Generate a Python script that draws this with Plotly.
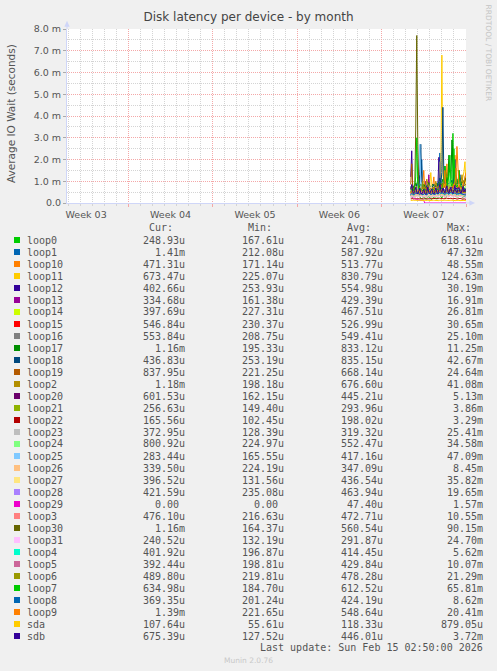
import pandas
import plotly.graph_objects

WIDTH, HEIGHT = 497, 671

# 2-hourly averages, only the last few days of the month hold data
TIMES = pandas.date_range("2026-02-11 10:00", periods=56, freq="2h")
X_RANGE = ["2026-01-13 22:00", "2026-02-16 00:00"]

DEVICES = [
    "loop0", "loop1", "loop10", "loop11", "loop12", "loop13", "loop14",
    "loop15", "loop16", "loop17", "loop18", "loop19", "loop2", "loop20",
    "loop21", "loop22", "loop23", "loop24", "loop25", "loop26", "loop27",
    "loop28", "loop29", "loop3", "loop30", "loop31", "loop4", "loop5",
    "loop6", "loop7", "loop8", "loop9", "sda", "sdb",
]

# munin default palette, wraps after 29 entries
COLORS = [
    "#00CC00", "#0066B3", "#FF8000", "#FFCC00", "#330099", "#990099", "#CCFF00",
    "#FF0000", "#808080", "#008F00", "#00487D", "#B35A00", "#B38F00", "#6B006B",
    "#8FB300", "#B30000", "#BEBEBE", "#80FF80", "#80C9FF", "#FFC080", "#FFE680",
    "#AA80FF", "#EE00CC", "#FF8080", "#666600", "#FFBFFF", "#00FFCC", "#CC6699",
    "#999900", "#00CC00", "#0066B3", "#FF8000", "#FFCC00", "#330099",
]

# IO wait per device, milliseconds
LOOP0 = [0.35, 0.28, 0.22, 0.25, 0.31, 0.42, 0.66, 1.20,
         0.38, 0.24, 0.21, 0.19, 0.23, 0.27, 0.22, 0.18,
         0.20, 0.26, 0.31, 0.24, 0.19, 0.17, 0.22, 0.29,
         0.25, 0.21, 0.18, 0.24, 0.33, 0.41, 0.28, 0.23,
         0.36, 0.52, 0.31, 0.27, 0.44, 0.62, 1.90, 0.71,
         0.48, 0.95, 3.20, 0.84, 0.37, 0.29, 0.33, 0.26,
         0.41, 0.58, 0.34, 0.27, 0.22, 0.31, 0.28, 0.25]
LOOP1 = [0.52, 0.61, 0.48, 0.55, 0.72, 0.64, 0.58, 0.81,
         0.66, 1.10, 1.45, 2.00, 0.74, 0.49, 0.43, 0.51,
         0.47, 0.56, 0.62, 0.44, 0.41, 0.53, 0.59, 0.48,
         0.45, 0.52, 0.61, 0.79, 1.20, 2.30, 0.92, 0.66,
         0.85, 0.71, 0.94, 1.40, 0.63, 0.57, 0.69, 0.82,
         0.61, 0.55, 0.74, 0.66, 0.59, 0.52, 0.71, 0.64,
         0.58, 0.93, 0.67, 0.54, 0.62, 0.88, 1.05, 1.41]
LOOP10 = [0.45, 0.52, 0.61, 0.48, 0.39, 0.55, 0.47, 0.63,
          0.51, 0.44, 0.58, 0.72, 0.96, 1.50, 0.62, 0.41,
          0.38, 0.46, 0.52, 0.43, 0.49, 0.57, 0.81, 1.20,
          0.54, 0.42, 0.47, 0.39, 0.51, 0.64, 0.58, 0.73,
          0.66, 1.05, 0.82, 0.69, 1.80, 0.74, 0.61, 0.57,
          0.88, 0.65, 0.79, 1.15, 2.20, 0.93, 0.71, 0.62,
          0.55, 0.68, 0.74, 0.59, 0.52, 0.61, 0.48, 0.47]
LOOP11 = [0.62, 0.71, 0.58, 0.66, 0.74, 0.92, 0.81, 0.69,
          0.77, 0.63, 0.59, 0.72, 0.68, 0.85, 0.61, 0.57,
          0.64, 0.79, 0.88, 0.96, 1.40, 0.73, 0.66, 0.61,
          0.58, 0.69, 0.75, 0.82, 0.94, 1.10, 1.60, 6.80,
          1.30, 0.88, 0.79, 0.92, 1.25, 0.84, 0.73, 0.81,
          0.96, 0.78, 0.85, 0.71, 0.69, 0.93, 0.77, 0.82,
          0.74, 0.88, 0.79, 0.95, 1.20, 1.45, 1.90, 0.67]
LOOP12 = [1.20, 2.40, 0.62, 0.48, 0.55, 0.51, 0.46, 0.58,
          0.52, 0.47, 0.61, 0.54, 0.49, 0.57, 0.63, 0.51,
          0.46, 0.58, 0.66, 0.52, 0.48, 0.55, 0.61, 0.57,
          0.53, 0.49, 0.56, 0.72, 2.10, 0.84, 0.63, 0.58,
          0.71, 0.62, 0.55, 0.68, 0.59, 0.53, 0.64, 0.57,
          0.61, 0.74, 0.66, 0.58, 0.52, 0.63, 0.69, 0.55,
          0.51, 0.59, 0.65, 0.54, 0.48, 0.57, 0.44, 0.40]
LOOP13 = [0.38, 0.42, 0.35, 0.41, 0.46, 0.39, 0.44, 0.51,
          0.43, 0.37, 0.40, 0.45, 0.48, 0.42, 0.56, 1.00,
          0.47, 0.52, 1.30, 0.49, 0.41, 0.38, 0.44, 0.46,
          0.39, 0.43, 0.47, 0.41, 0.52, 0.48, 0.44, 0.55,
          0.61, 0.49, 0.45, 0.42, 0.51, 0.46, 0.43, 0.48,
          0.53, 0.47, 0.44, 0.50, 0.46, 0.41, 0.48, 0.52,
          0.45, 0.42, 0.47, 0.43, 0.39, 0.41, 0.37, 0.33]
LOOP14 = [0.41, 0.46, 0.39, 0.44, 0.52, 0.48, 0.43, 0.47,
          0.51, 0.45, 0.42, 0.49, 0.55, 0.47, 0.43, 0.40,
          0.46, 0.53, 0.49, 0.44, 0.41, 0.47, 0.52, 0.48,
          0.43, 0.46, 0.50, 0.45, 0.58, 0.64, 0.52, 0.61,
          0.55, 0.49, 0.46, 0.53, 0.74, 0.57, 0.51, 0.48,
          0.55, 0.62, 0.58, 0.51, 0.47, 0.53, 0.49, 0.46,
          0.52, 0.48, 0.44, 0.49, 0.46, 0.43, 0.41, 0.40]
LOOP15 = [0.48, 0.53, 0.51, 0.49, 0.55, 0.52, 0.57, 0.54,
          0.50, 0.52, 0.56, 0.53, 0.49, 0.51, 0.55, 0.52,
          0.48, 0.50, 0.54, 0.51, 0.49, 0.53, 0.56, 0.52,
          0.50, 0.48, 0.51, 0.55, 0.59, 0.62, 0.57, 0.64,
          0.58, 0.55, 0.53, 0.56, 0.61, 0.57, 0.54, 0.52,
          0.58, 0.63, 0.59, 0.55, 0.53, 0.57, 0.54, 0.51,
          0.55, 0.53, 0.50, 0.54, 0.52, 0.56, 0.53, 0.55]
LOOP16 = [0.51, 0.56, 0.49, 0.53, 0.61, 0.58, 0.52, 0.66,
          0.57, 0.53, 0.62, 0.59, 0.54, 0.51, 0.48, 0.55,
          0.52, 0.57, 0.63, 0.56, 0.50, 0.54, 0.58, 0.53,
          0.49, 0.55, 0.60, 0.68, 0.95, 1.90, 0.72, 0.61,
          0.66, 0.59, 0.55, 0.62, 0.57, 0.53, 0.60, 0.56,
          0.63, 0.58, 0.54, 0.61, 0.57, 0.52, 0.59, 0.55,
          0.51, 0.58, 0.62, 0.56, 0.53, 0.57, 0.55, 0.55]
LOOP17 = [0.72, 0.81, 0.76, 0.69, 0.85, 0.92, 0.78, 1.05,
          0.83, 0.74, 0.88, 0.79, 0.71, 0.86, 0.77, 0.70,
          0.75, 0.82, 0.94, 0.79, 0.73, 0.80, 0.87, 0.76,
          0.72, 0.84, 0.91, 0.78, 0.86, 0.95, 0.82, 0.89,
          1.10, 0.93, 1.70, 1.05, 0.88, 1.20, 2.20, 0.97,
          1.15, 2.90, 1.35, 0.92, 0.86, 0.98, 1.10, 0.89,
          1.50, 0.94, 0.87, 0.99, 0.91, 1.05, 1.12, 1.16]
LOOP18 = [0.68, 0.74, 0.81, 0.72, 0.79, 0.86, 0.77, 0.92,
          0.84, 1.30, 2.70, 0.95, 0.78, 0.71, 0.76, 0.82,
          0.74, 0.69, 0.77, 0.83, 0.75, 0.70, 0.79, 0.86,
          0.81, 0.73, 0.78, 0.85, 0.97, 1.15, 0.93, 1.40,
          4.40, 1.10, 0.89, 0.96, 0.84, 0.91, 0.87, 0.99,
          0.93, 1.05, 0.88, 1.20, 2.00, 0.95, 0.86, 0.92,
          1.05, 1.30, 0.89, 0.82, 0.77, 0.71, 0.58, 0.44]
LOOP19 = [0.85, 1.80, 0.72, 0.64, 0.59, 0.68, 0.75, 0.66,
          0.61, 0.57, 0.69, 0.74, 0.63, 0.58, 0.65, 0.71,
          0.62, 0.56, 0.64, 0.70, 0.66, 0.60, 0.67, 0.73,
          0.65, 0.59, 0.63, 0.69, 0.78, 0.84, 0.75, 0.81,
          0.92, 0.76, 0.71, 0.68, 0.79, 0.73, 0.67, 0.74,
          0.82, 0.77, 0.70, 0.76, 0.85, 0.78, 0.72, 0.69,
          0.75, 0.81, 0.74, 0.68, 0.73, 0.79, 0.84, 0.84]
LOOP2 = [0.64, 0.71, 0.66, 0.59, 0.73, 0.68, 0.62, 0.75,
         0.69, 0.63, 0.70, 0.77, 0.66, 0.61, 0.72, 0.84,
         1.10, 0.74, 0.65, 0.60, 0.67, 0.71, 0.63, 0.69,
         0.76, 1.00, 0.72, 0.66, 0.74, 0.81, 0.70, 0.78,
         0.86, 0.73, 0.79, 0.92, 0.75, 0.71, 0.83, 0.77,
         0.72, 0.80, 0.88, 0.74, 0.96, 1.60, 0.82, 0.76,
         0.71, 0.79, 0.95, 1.30, 0.84, 0.92, 1.05, 1.18]
LOOP20 = [0.41, 0.47, 0.43, 0.39, 0.45, 0.52, 0.44, 0.48,
          0.42, 0.46, 0.50, 0.44, 0.40, 0.47, 0.43, 0.41,
          0.45, 0.49, 0.62, 0.47, 0.42, 0.44, 0.48, 0.43,
          0.40, 0.45, 0.51, 0.46, 0.53, 0.58, 0.49, 0.55,
          0.50, 0.46, 0.43, 0.49, 0.54, 0.47, 0.44, 0.51,
          0.56, 0.48, 0.45, 0.50, 0.53, 0.47, 0.44, 0.49,
          0.46, 0.52, 0.48, 0.45, 0.50, 0.55, 0.58, 0.60]
LOOP21 = [0.27, 0.31, 0.28, 0.25, 0.30, 0.33, 0.29, 0.35,
          0.30, 0.27, 0.32, 0.29, 0.26, 0.28, 0.31, 0.27,
          0.25, 0.29, 0.34, 0.30, 0.26, 0.28, 0.32, 0.29,
          0.27, 0.30, 0.33, 0.28, 0.31, 0.36, 0.30, 0.34,
          0.32, 0.29, 0.27, 0.31, 0.35, 0.30, 0.28, 0.33,
          0.37, 0.31, 0.29, 0.32, 0.34, 0.30, 0.27, 0.31,
          0.29, 0.33, 0.30, 0.28, 0.26, 0.29, 0.27, 0.26]
LOOP22 = [0.19, 0.21, 0.20, 0.18, 0.20, 0.22, 0.19, 0.21,
          0.20, 0.19, 0.21, 0.20, 0.18, 0.19, 0.21, 0.20,
          0.18, 0.19, 0.22, 0.20, 0.19, 0.18, 0.20, 0.21,
          0.19, 0.20, 0.22, 0.19, 0.21, 0.23, 0.20, 0.22,
          0.21, 0.19, 0.20, 0.21, 0.23, 0.20, 0.19, 0.21,
          0.22, 0.20, 0.19, 0.21, 0.22, 0.20, 0.18, 0.20,
          0.19, 0.21, 0.20, 0.18, 0.17, 0.19, 0.18, 0.17]
LOOP23 = [0.30, 0.34, 0.31, 0.28, 0.33, 0.36, 0.32, 0.38,
          0.33, 0.30, 0.35, 0.32, 0.29, 0.31, 0.34, 0.30,
          0.28, 0.32, 0.37, 0.33, 0.29, 0.31, 0.35, 0.32,
          0.30, 0.33, 0.36, 0.31, 0.34, 0.39, 0.33, 0.37,
          0.35, 0.32, 0.30, 0.34, 0.38, 0.33, 0.31, 0.36,
          0.40, 0.34, 0.32, 0.35, 0.37, 0.33, 0.30, 0.34,
          0.32, 0.36, 0.33, 0.31, 0.35, 0.38, 0.36, 0.37]
LOOP24 = [0.52, 0.58, 0.54, 0.49, 0.56, 0.61, 0.53, 0.59,
          0.55, 0.51, 0.57, 0.60, 0.53, 0.50, 0.55, 0.52,
          0.48, 0.54, 0.59, 0.56, 0.51, 0.53, 0.57, 0.54,
          0.50, 0.55, 0.60, 0.54, 0.58, 0.66, 0.57, 0.63,
          0.61, 0.56, 0.53, 0.59, 0.68, 0.62, 0.74, 1.40,
          0.71, 0.63, 0.58, 0.65, 0.69, 0.61, 0.57, 0.64,
          0.60, 0.67, 0.62, 0.58, 0.64, 0.71, 0.76, 0.80]
LOOP25 = [0.39, 0.44, 0.41, 0.37, 0.43, 0.48, 0.42, 0.62,
          1.40, 2.70, 0.95, 0.46, 0.40, 0.38, 0.42, 0.39,
          0.36, 0.41, 0.45, 0.40, 0.37, 0.39, 0.43, 0.40,
          0.38, 0.41, 0.44, 0.39, 0.42, 0.47, 0.41, 0.46,
          0.44, 0.40, 0.38, 0.42, 0.46, 0.41, 0.39, 0.43,
          0.47, 0.42, 0.40, 0.44, 0.45, 0.41, 0.38, 0.42,
          0.40, 0.44, 0.41, 0.37, 0.34, 0.31, 0.29, 0.28]
LOOP26 = [0.33, 0.37, 0.34, 0.31, 0.36, 0.40, 0.35, 0.41,
          0.36, 0.33, 0.38, 0.35, 0.32, 0.34, 0.37, 0.33,
          0.31, 0.35, 0.40, 0.36, 0.32, 0.34, 0.38, 0.35,
          0.33, 0.36, 0.39, 0.34, 0.37, 0.42, 0.36, 0.40,
          0.38, 0.35, 0.33, 0.37, 0.41, 0.36, 0.34, 0.39,
          0.43, 0.37, 0.35, 0.38, 0.40, 0.36, 0.33, 0.37,
          0.35, 0.39, 0.36, 0.34, 0.37, 0.35, 0.33, 0.34]
LOOP27 = [0.41, 0.46, 0.43, 0.39, 0.45, 0.49, 0.44, 0.50,
          0.45, 0.42, 0.47, 0.44, 0.40, 0.43, 0.46, 0.42,
          0.40, 0.45, 0.58, 0.72, 1.00, 0.48, 0.46, 0.43,
          0.41, 0.44, 0.47, 0.42, 0.45, 0.51, 0.44, 0.49,
          0.47, 0.43, 0.41, 0.45, 0.49, 0.44, 0.42, 0.46,
          0.50, 0.45, 0.43, 0.47, 0.48, 0.44, 0.41, 0.45,
          0.43, 0.47, 0.44, 0.41, 0.43, 0.40, 0.39, 0.40]
LOOP28 = [0.43, 0.48, 0.45, 0.41, 0.47, 0.51, 0.46, 0.52,
          0.47, 0.44, 0.49, 0.46, 0.42, 0.45, 0.48, 0.44,
          0.42, 0.46, 0.51, 0.47, 0.43, 0.45, 0.49, 0.46,
          0.44, 0.47, 0.50, 0.45, 0.48, 0.54, 0.47, 0.52,
          0.50, 0.46, 0.44, 0.48, 0.52, 0.47, 0.45, 0.49,
          0.53, 0.48, 0.46, 0.50, 0.51, 0.47, 0.44, 0.48,
          0.46, 0.50, 0.47, 0.44, 0.46, 0.43, 0.42, 0.42]
LOOP29 = [0.32, 0.28, 0.25, 0.21, 0.18, 0.16, 0.15, 0.14,
          0.15, 0.13, 0.14, 0.12, 0.13, 0.11, 0.00, 0.00,
          0.00, 0.00, 0.00, 0.00, 0.00, 0.00, 0.00, 0.00,
          0.00, 0.00, 0.00, 0.00, 0.00, 0.00, 0.00, 0.00,
          0.00, 0.00, 0.00, 0.00, 0.00, 0.00, 0.00, 0.00,
          0.00, 0.00, 0.00, 0.00, 0.00, 0.00, 0.00, 0.00,
          0.00, 0.00, 0.00, 0.00, 0.00, 0.00, 0.00, 0.00]
LOOP3 = [0.44, 0.49, 0.46, 0.42, 0.48, 0.52, 0.47, 0.53,
         0.48, 0.45, 0.50, 0.47, 0.43, 0.46, 0.49, 0.45,
         0.43, 0.47, 0.52, 0.48, 0.44, 0.46, 0.50, 0.47,
         0.45, 0.48, 0.51, 0.46, 0.49, 0.55, 0.48, 0.53,
         0.51, 0.47, 0.45, 0.49, 0.53, 0.48, 0.46, 0.50,
         0.54, 0.49, 0.47, 0.51, 0.52, 0.48, 0.45, 0.49,
         0.47, 0.51, 0.48, 0.45, 0.49, 0.46, 0.47, 0.48]
LOOP30 = [0.52, 0.58, 0.61, 0.54, 0.73, 3.40, 7.70, 2.90,
          0.81, 0.62, 0.55, 0.59, 0.53, 0.50, 0.56, 0.52,
          0.49, 0.54, 0.58, 0.55, 0.51, 0.53, 0.57, 0.54,
          0.50, 0.55, 0.59, 0.54, 0.57, 0.63, 0.56, 0.61,
          0.59, 0.55, 0.52, 0.57, 0.62, 0.56, 0.54, 0.58,
          0.63, 0.57, 0.55, 0.59, 0.61, 0.56, 0.53, 0.57,
          0.55, 0.60, 0.57, 0.54, 0.72, 0.88, 1.05, 1.16]
LOOP31 = [0.27, 0.31, 0.28, 0.25, 0.30, 0.33, 0.29, 0.34,
          0.30, 0.27, 0.32, 0.29, 0.26, 0.28, 0.31, 0.27,
          0.25, 0.29, 0.33, 0.30, 0.26, 0.28, 0.32, 0.29,
          0.27, 0.30, 0.33, 0.28, 0.31, 0.35, 0.30, 0.34,
          0.32, 0.29, 0.27, 0.31, 0.34, 0.30, 0.28, 0.32,
          0.35, 0.31, 0.29, 0.32, 0.33, 0.30, 0.27, 0.31,
          0.29, 0.32, 0.30, 0.27, 0.26, 0.25, 0.24, 0.24]
LOOP4 = [0.38, 0.43, 0.40, 0.36, 0.42, 0.46, 0.41, 0.47,
         0.42, 0.39, 0.44, 0.41, 0.37, 0.40, 0.43, 0.39,
         0.37, 0.41, 0.46, 0.42, 0.38, 0.40, 0.44, 0.41,
         0.39, 0.42, 0.45, 0.40, 0.43, 0.48, 0.42, 0.46,
         0.45, 0.41, 0.39, 0.43, 0.47, 0.42, 0.40, 0.44,
         0.48, 0.43, 0.41, 0.44, 0.46, 0.42, 0.39, 0.43,
         0.41, 0.45, 0.42, 0.39, 0.41, 0.38, 0.40, 0.40]
LOOP5 = [0.40, 0.45, 0.42, 0.38, 0.44, 0.48, 0.43, 0.49,
         0.44, 0.41, 0.46, 0.43, 0.39, 0.42, 0.45, 0.41,
         0.39, 0.43, 0.48, 0.44, 0.40, 0.42, 0.46, 0.43,
         0.41, 0.44, 0.47, 0.42, 0.45, 0.50, 0.44, 0.48,
         0.47, 0.43, 0.41, 0.45, 0.49, 0.44, 0.42, 0.46,
         0.50, 0.45, 0.43, 0.46, 0.48, 0.44, 0.41, 0.45,
         0.43, 0.47, 0.44, 0.41, 0.40, 0.42, 0.39, 0.39]
LOOP6 = [0.45, 0.50, 0.47, 0.43, 0.49, 0.53, 0.48, 0.54,
         0.49, 0.46, 0.51, 0.62, 1.00, 0.55, 0.50, 0.46,
         0.44, 0.48, 0.53, 0.49, 0.45, 0.47, 0.51, 0.48,
         0.46, 0.49, 0.52, 0.47, 0.50, 0.56, 0.49, 0.54,
         0.52, 0.48, 0.46, 0.50, 0.54, 0.49, 0.47, 0.51,
         0.55, 0.50, 0.48, 0.52, 0.53, 0.49, 0.46, 0.50,
         0.48, 0.52, 0.49, 0.46, 0.48, 0.47, 0.49, 0.49]
LOOP7 = [0.58, 0.64, 0.61, 0.57, 0.75, 1.20, 3.00, 0.95,
         0.66, 0.59, 0.63, 0.60, 0.56, 0.62, 0.65, 0.58,
         0.55, 0.61, 0.66, 0.62, 0.57, 0.60, 0.64, 0.61,
         0.58, 0.62, 0.66, 0.60, 0.64, 0.71, 0.63, 0.69,
         0.82, 1.05, 1.70, 0.88, 0.74, 0.96, 1.30, 2.20,
         0.91, 0.78, 1.10, 2.50, 0.95, 0.81, 0.73, 0.86,
         1.50, 0.92, 0.77, 0.69, 0.74, 0.66, 0.62, 0.63]
LOOP8 = [0.39, 0.44, 0.41, 0.37, 0.43, 0.47, 0.42, 0.48,
         0.43, 0.40, 0.45, 0.42, 0.38, 0.41, 0.44, 0.40,
         0.38, 0.42, 0.47, 0.43, 0.39, 0.41, 0.45, 0.42,
         0.40, 0.43, 0.46, 0.41, 0.44, 0.49, 0.43, 0.47,
         0.46, 0.42, 0.40, 0.44, 0.48, 0.43, 0.41, 0.45,
         0.49, 0.44, 0.42, 0.45, 0.47, 0.43, 0.40, 0.44,
         0.42, 0.46, 0.43, 0.40, 0.39, 0.38, 0.37, 0.37]
LOOP9 = [0.51, 0.57, 0.54, 0.50, 0.56, 0.60, 0.55, 0.61,
         0.56, 0.52, 0.58, 0.55, 0.51, 0.54, 0.57, 0.53,
         0.50, 0.55, 0.60, 0.56, 0.52, 0.54, 0.58, 0.55,
         0.52, 0.56, 0.59, 0.54, 0.57, 0.63, 0.56, 0.61,
         0.68, 0.85, 1.50, 0.72, 0.64, 0.59, 0.66, 0.71,
         0.63, 0.58, 0.69, 0.77, 0.92, 1.25, 2.60, 1.20,
         0.74, 0.66, 0.71, 0.63, 0.82, 1.05, 1.25, 1.39]
SDA = [0.12, 0.11, 0.12, 0.13, 0.11, 0.12, 0.12, 0.11,
       0.12, 0.13, 0.12, 0.11, 0.12, 0.12, 0.11, 0.12,
       0.13, 0.12, 0.11, 0.12, 0.12, 0.11, 0.12, 0.13,
       0.12, 0.11, 0.12, 0.12, 0.11, 0.13, 0.12, 0.11,
       0.12, 0.12, 0.13, 0.11, 0.12, 0.12, 0.11, 0.12,
       0.13, 0.12, 0.11, 0.12, 0.12, 0.11, 0.12, 0.13,
       0.12, 0.11, 0.12, 0.12, 0.11, 0.12, 0.11, 0.11]
SDB = [0.62, 0.85, 0.51, 0.44, 0.58, 0.72, 0.49, 0.41,
       0.55, 0.68, 0.47, 0.40, 0.52, 0.63, 0.45, 0.39,
       0.50, 0.74, 0.48, 0.42, 0.56, 0.66, 0.46, 0.40,
       0.53, 0.70, 0.49, 0.43, 0.61, 0.88, 0.57, 0.48,
       0.69, 0.54, 0.46, 0.63, 0.79, 0.52, 0.45, 0.60,
       0.73, 0.50, 0.44, 0.58, 0.81, 0.55, 0.47, 0.64,
       0.71, 0.51, 0.45, 0.59, 0.76, 0.53, 0.62, 0.68]

SERIES = [
    LOOP0, LOOP1, LOOP10, LOOP11, LOOP12, LOOP13, LOOP14, LOOP15, LOOP16,
    LOOP17, LOOP18, LOOP19, LOOP2, LOOP20, LOOP21, LOOP22, LOOP23, LOOP24,
    LOOP25, LOOP26, LOOP27, LOOP28, LOOP29, LOOP3, LOOP30, LOOP31, LOOP4,
    LOOP5, LOOP6, LOOP7, LOOP8, LOOP9, SDA, SDB,
]

# legend statistics, milliseconds
CUR_MS = [0.24893, 1.41, 0.47131, 0.67347, 0.40266, 0.33468, 0.39769,
          0.54684, 0.55384, 1.16, 0.43683, 0.83795, 1.18, 0.60153,
          0.25663, 0.16556, 0.37295, 0.80092, 0.28344, 0.33950, 0.39652,
          0.42159, 0.0, 0.47610, 1.16, 0.24052, 0.40192, 0.39244,
          0.48980, 0.63498, 0.36935, 1.39, 0.10764, 0.67539]
MIN_MS = [0.16761, 0.21208, 0.17114, 0.22507, 0.25393, 0.16138, 0.22731,
          0.23037, 0.20875, 0.19533, 0.25319, 0.22125, 0.19818, 0.16215,
          0.14940, 0.10245, 0.12839, 0.22497, 0.16555, 0.22419, 0.13156,
          0.23508, 0.0, 0.21663, 0.16437, 0.13219, 0.19687, 0.19881,
          0.21981, 0.18470, 0.20124, 0.22165, 0.05561, 0.12752]
AVG_MS = [0.24178, 0.58792, 0.51377, 0.83079, 0.55498, 0.42939, 0.46751,
          0.52699, 0.54941, 0.83312, 0.83515, 0.66814, 0.67660, 0.44521,
          0.29396, 0.19802, 0.31932, 0.55247, 0.41716, 0.34709, 0.43654,
          0.46394, 0.04740, 0.47271, 0.56054, 0.29187, 0.41445, 0.42984,
          0.47828, 0.61252, 0.42419, 0.54864, 0.11833, 0.44601]
MAX_MS = [0.61861, 47.32, 48.55, 124.63, 30.19, 16.91, 26.81,
          30.65, 25.10, 11.25, 42.67, 24.64, 41.08, 5.13,
          3.86, 3.29, 25.41, 34.58, 47.09, 8.45, 35.82,
          19.65, 1.57, 10.55, 90.15, 24.70, 5.62, 10.07,
          21.29, 65.81, 8.62, 20.41, 0.87905, 3.72]

Y_TICKS_MS = [0, 1, 2, 3, 4, 5, 6, 7, 8]
LAST_UPDATE = "Sun Feb 15 02:50:00 2026"

FONT = "#555555"
AXIS = "#CFD6F8"
MAJOR = "#F4A8A8"
MINOR = "#D4D4D4"
SANS = "DejaVu Sans"
MONO = "DejaVu Sans Mono"
NBSP = "\u00a0"


def px_x(x: float) -> float:
    return x / WIDTH


def px_y(y: float) -> float:
    return 1 - y / HEIGHT


def fmt_si(ms: float) -> str:
    # rrdtool style: 248.93u, 1.41m, "0.00 "
    if ms == 0:
        return "0.00" + NBSP
    if ms < 1:
        return f"{ms * 1000:.2f}u"
    return f"{ms:.2f}m"


def text(x, y, s, anchor="left", size=10, family=MONO, color=FONT, **kw):
    return dict(
        x=px_x(x), y=px_y(y), xref="paper", yref="paper", text=s,
        showarrow=False, xanchor=anchor, yanchor="middle",
        borderpad=0, borderwidth=0,
        font=dict(family=family, size=size, color=color), **kw,
    )


for s in SERIES:
    assert len(s) == len(TIMES)

fig = plotly.graph_objects.Figure()
for name, color, values in zip(DEVICES, COLORS, SERIES):
    fig.add_trace(
        plotly.graph_objects.Scatter(
            x=TIMES,
            y=[v / 1000 for v in values],
            name=name,
            mode="lines",
            line=dict(color=color, width=1),
            hoverinfo="skip",
        )
    )

annotations = [
    text(11, 114, "Average IO Wait (seconds)", anchor="center", family=SANS,
         size=10.5, textangle=-90),
    text(488.5, 53, "RRDTOOL / TOBI OETIKER", anchor="center", family=SANS,
         size=7.5, color="#C4C4C4", textangle=90),
    text(483, 647, "Last update:" + NBSP + LAST_UPDATE.replace(" ", NBSP), anchor="right"),
    text(248, 660, "Munin 2.0.76", anchor="center", family=SANS, size=7.5,
         color="#C8C8C8"),
]

# legend table: swatch, name, Cur, Min, Avg, Max
COLUMN_RIGHT = [185, 284, 383, 483]
for label, right in zip(["Cur:", "Min:", "Avg:", "Max:"], COLUMN_RIGHT):
    annotations.append(text(right, 227, label + NBSP * 2, anchor="right"))

shapes = []
ROW0, ROW_STEP = 240, 12.0
for i, (name, color) in enumerate(zip(DEVICES, COLORS)):
    y = ROW0 + i * ROW_STEP
    shapes.append(dict(
        type="rect", xref="paper", yref="paper",
        x0=px_x(14), x1=px_x(20), y0=px_y(y + 3), y1=px_y(y - 3),
        fillcolor=color, line=dict(width=0),
    ))
    annotations.append(text(26.5, y, name))
    stats = [CUR_MS[i], MIN_MS[i], AVG_MS[i], MAX_MS[i]]
    for value, right in zip(stats, COLUMN_RIGHT):
        annotations.append(text(right, y, fmt_si(value), anchor="right"))

# rrdtool axis extensions and arrow heads
shapes += [
    dict(type="line", xref="paper", yref="paper", x0=px_x(67), x1=px_x(67),
         y0=px_y(29), y1=px_y(24), line=dict(color=AXIS, width=1)),
    dict(type="path", xref="paper", yref="paper",
         path=f"M {px_x(64.3)},{px_y(26.7)} L {px_x(69.7)},{px_y(26.7)} "
              f"L {px_x(67)},{px_y(20.7)} Z",
         fillcolor=AXIS, line=dict(width=0)),
    dict(type="line", xref="paper", yref="paper", x0=px_x(466), x1=px_x(470),
         y0=px_y(203), y1=px_y(203), line=dict(color=AXIS, width=1)),
    dict(type="path", xref="paper", yref="paper",
         path=f"M {px_x(469.3)},{px_y(200.3)} L {px_x(469.3)},{px_y(205.7)} "
              f"L {px_x(475)},{px_y(203)} Z",
         fillcolor=AXIS, line=dict(width=0)),
]

fig.update_layout(
    width=WIDTH,
    height=HEIGHT,
    autosize=False,
    margin=dict(l=0, r=0, t=0, b=0, pad=0),
    paper_bgcolor="#F0F0F0",
    plot_bgcolor="#FFFFFF",
    showlegend=False,
    title=dict(
        text="Disk latency per device - by month",
        x=0.5, xanchor="center", y=px_y(17), yanchor="middle",
        font=dict(family=SANS, size=12, color="#444444"),
    ),
    xaxis=dict(
        domain=[px_x(67), px_x(466)],
        automargin=False,
        type="date",
        range=X_RANGE,
        tick0="2026-01-05",
        dtick=7 * 86400000,
        ticklabelmode="period",
        tickformat="Week %V",
        tickfont=dict(family=SANS, size=9.5, color=FONT),
        showgrid=True,
        gridcolor=MAJOR,
        griddash="1px,1px",
        ticks="outside",
        ticklen=3,
        tickcolor=MAJOR,
        showline=True,
        linecolor=AXIS,
        zeroline=False,
        minor=dict(
            tick0="2026-01-05", dtick=86400000, showgrid=True,
            gridcolor=MINOR, griddash="1px,1px",
            ticks="outside", ticklen=2, tickcolor=MINOR,
        ),
    ),
    yaxis=dict(
        domain=[px_y(203), px_y(29)],
        automargin=False,
        range=[0, 0.008],
        tickmode="array",
        tickvals=[v / 1000 for v in Y_TICKS_MS],
        ticktext=["0.0" if v == 0 else f"{v:.1f} m" for v in Y_TICKS_MS],
        tickfont=dict(family=SANS, size=9.5, color=FONT),
        showgrid=True,
        gridcolor=MAJOR,
        griddash="1px,1px",
        ticks="outside",
        ticklen=3,
        tickcolor="#AAAAAA",
        showline=True,
        linecolor=AXIS,
        zeroline=False,
        minor=dict(
            tickmode="linear", tick0=0, dtick=0.0005, showgrid=True,
            gridcolor=MINOR, griddash="1px,1px",
        ),
    ),
    annotations=annotations,
    shapes=shapes,
)

# page margin off so the figure sits at the window's top-left corner
fig.write_html(
    "out.html",
    config={"displayModeBar": False},
    post_script="document.body.style.margin = '0';",
)
